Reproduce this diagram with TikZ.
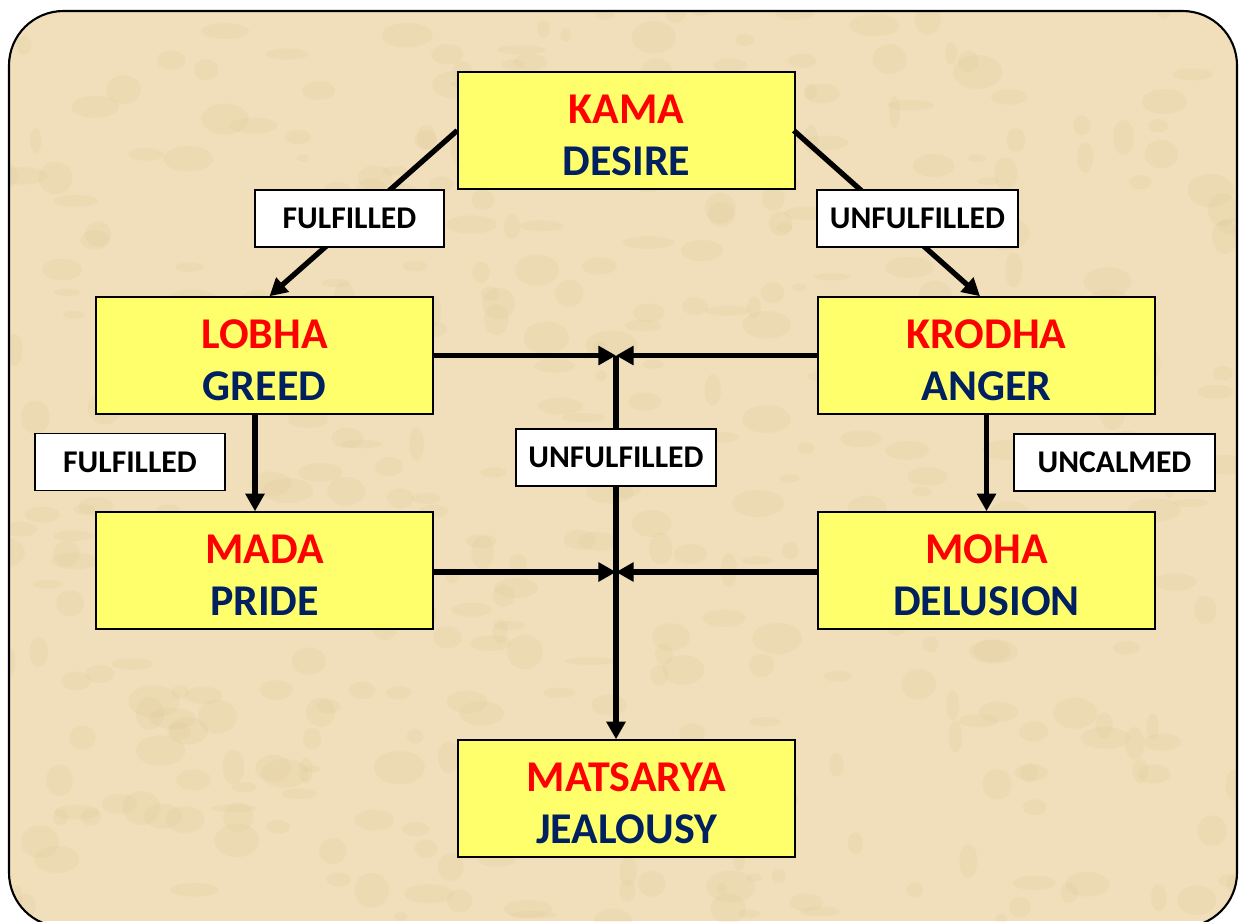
\documentclass[tikz,border=0pt]{standalone}
\usepackage{fontspec}
\setmainfont{Carlito}
\usepackage{xcolor}
\usetikzlibrary{positioning, arrows.meta, calc}
\definecolor{parch}{HTML}{F0DFBA}
\definecolor{blotch}{HTML}{D6BA88}
\definecolor{boxyellow}{HTML}{FFFF6B}
\definecolor{sinred}{HTML}{FF0000}
\definecolor{sinnavy}{HTML}{002060}
\newcommand{\vname}[2]{\rule{0pt}{22pt}\textcolor{sinred}{#1}\\\textcolor{sinnavy}{#2}}

\begin{document}
\begin{tikzpicture}[x=0.02cm, y=-0.02cm,
  vice/.style={draw, line width=0.9pt, fill=boxyellow, minimum width=6.74cm, minimum height=2.34cm,
    inner sep=0pt, align=center, font=\bfseries\fontsize{25}{29.5}\selectfont},
  cond/.style={draw, line width=0.9pt, fill=white, minimum height=1.14cm, inner sep=0pt,
    font=\bfseries\fontsize{18}{20}\selectfont},
  flow/.style={line width=3pt, -{Triangle[length=10pt, width=10.5pt]}}]
  \useasboundingbox (0,0) rectangle (1239,921);
  \begin{scope}
    \clip[rounded corners=31pt] (9,11) rectangle (1237,927);
    \fill[parch] (0,0) rectangle (1239,921);
    \pgfmathsetseed{7}
    \foreach \k in {1,...,420} {
      \pgfmathsetmacro{\bx}{rnd*1239}
      \pgfmathsetmacro{\by}{rnd*921}
      \pgfmathsetmacro{\ra}{3+rnd*12}
      \pgfmathsetmacro{\rb}{2+rnd*8}
      \fill[blotch, opacity=0.12] (\bx,\by) ellipse ({\ra pt} and {\rb pt});
    }
  \end{scope}
  \draw[line width=1.2pt, rounded corners=31pt] (9,11) rectangle (1237,927);

  \node[vice] (kama) at (626.5,130.5) {\vname{KAMA}{DESIRE}};
  \node[vice] (lobha) at (264.5,355.5) {\vname{LOBHA}{GREED}};
  \node[vice] (krodha) at (986.5,355.5) {\vname{KRODHA}{ANGER}};
  \node[vice] (mada) at (264.5,570.5) {\vname{MADA}{PRIDE}};
  \node[vice] (moha) at (986.5,570.5) {\vname{MOHA}{DELUSION}};
  \node[vice] (matsarya) at (626.5,798.5) {\vname{MATSARYA}{JEALOUSY}};

  \coordinate (jtop) at (616,355.5);
  \coordinate (jbot) at (616,572);

  \draw[flow] (kama.west) -- ([xshift=0.1cm]lobha.north);
  \draw[flow] ([xshift=-0.04cm]kama.east) -- ([xshift=-0.13cm]krodha.north);
  \draw[flow] ([xshift=-0.19cm]lobha.south) -- ([xshift=-0.19cm]mada.north);
  \draw[flow] (krodha.south) -- (moha.north);
  \draw[flow] (lobha.east) -- (jtop);
  \draw[flow] (krodha.west) -- (jtop);
  \draw[flow] (mada.east |- jbot) -- (jbot);
  \draw[flow] (moha.west |- jbot) -- (jbot);
  \draw[flow] (jtop) -- (jtop |- matsarya.north);

  \node[cond, minimum width=3.78cm] (ful1) at (349.5,218.5) {FULFILLED};
  \node[cond, minimum width=4.02cm] (unf1) at (917.5,218.5) {UNFULFILLED};
  \node[cond, minimum width=3.8cm] (ful2) at (130,462) {FULFILLED};
  \node[cond, minimum width=4cm] (unf2) at (616,457.5) {UNFULFILLED};
  \node[cond, minimum width=4.02cm] (uncalm) at (1114.5,462.5) {UNCALMED};
\end{tikzpicture}
\end{document}
